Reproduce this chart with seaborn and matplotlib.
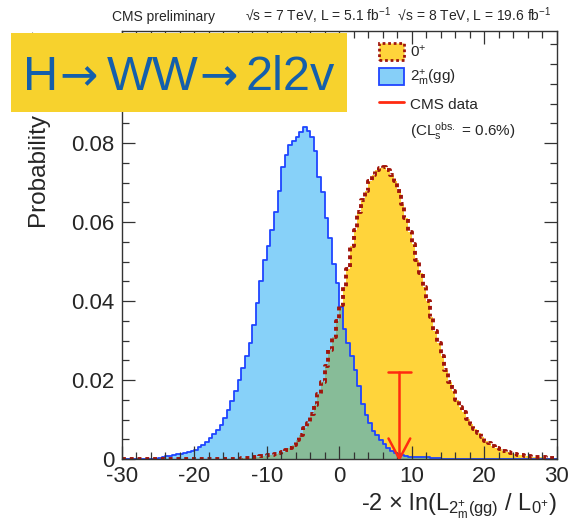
import numpy as np
import pandas as pd
import matplotlib
matplotlib.use("Agg")
import matplotlib.pyplot as plt
import seaborn as sns
from matplotlib.patches import Patch, Rectangle
from matplotlib.lines import Line2D

# ---------------- data ----------------
bin_edges = [(-60 + i) / 2 for i in range(121)]
bin_centers = [(bin_edges[i] + bin_edges[i + 1]) / 2 for i in range(120)]

spin2_gg = ([0] * 9 +
            [0.0001, 0.0003, 0.0005, 0.0007, 0.0008, 0.0010, 0.0012, 0.0013, 0.0015, 0.0017,
             0.0020, 0.0024, 0.0030, 0.0036, 0.0044, 0.0052, 0.0063, 0.0074, 0.0087, 0.0105,
             0.0125, 0.0148, 0.0172, 0.0200, 0.0230, 0.0262, 0.0295, 0.0340, 0.0395, 0.0450,
             0.0505, 0.0540, 0.0580, 0.0625, 0.0680, 0.0740, 0.0770, 0.0795, 0.0805, 0.0815,
             0.0828, 0.0840, 0.0830, 0.0815, 0.0780, 0.0715, 0.0675, 0.0610, 0.0560, 0.0495,
             0.0445, 0.0385, 0.0330, 0.0295, 0.0262, 0.0225, 0.0185, 0.0140, 0.0112, 0.0090,
             0.0072, 0.0060, 0.0048, 0.0037, 0.0029, 0.0021, 0.0016, 0.0012, 0.0009, 0.0007,
             0.0006, 0.0005, 0.0005, 0.0004, 0.0004, 0.0004, 0.0003, 0.0003, 0.0002] +
            [0] * 32)

spin0 = ([0] * 33 +
         [0.0002, 0.0002, 0.0003, 0.0004, 0.0005, 0.0007, 0.0008, 0.0010, 0.0011, 0.0013,
          0.0016, 0.0018, 0.0022, 0.0027, 0.0035, 0.0047, 0.0062, 0.0078, 0.0092, 0.0115,
          0.0138, 0.0165, 0.0195, 0.0235, 0.0276, 0.0310, 0.0350,
          0.0390, 0.0435, 0.0480, 0.0540, 0.0580, 0.0625, 0.0655, 0.0680, 0.0705, 0.0720,
          0.0732, 0.0738, 0.0740, 0.0732, 0.0720, 0.0705, 0.0680, 0.0645, 0.0610, 0.0575,
          0.0545, 0.0505, 0.0470, 0.0435, 0.0400, 0.0360, 0.0325, 0.0295, 0.0260, 0.0225,
          0.0195, 0.0172, 0.0150, 0.0132, 0.0118, 0.0102, 0.0088, 0.0076, 0.0065, 0.0055,
          0.0046, 0.0040, 0.0034, 0.0029, 0.0025, 0.0021, 0.0018, 0.0015, 0.0013, 0.0011,
          0.0009, 0.0008, 0.0007, 0.0006, 0.0005, 0.0004, 0.0004, 0.0003, 0.0003, 0.0002])

assert len(spin2_gg) == 120 and len(spin0) == 120

observed_x = 8.3
observed_top = 0.0221

x_ticks = [-30, -20, -10, 0, 10, 20, 30]
y_ticks = [0, 0.02, 0.04, 0.06, 0.08]
y_tick_labels = ["0", "0.02", "0.04", "0.06", "0.08"]

title_parts = ["H", "→", "WW", "→", "2l2v"]

df0 = pd.DataFrame({"x": bin_centers, "w": spin0})
df2 = pd.DataFrame({"x": bin_centers, "w": spin2_gg})

# ---------------- style ----------------
sns.set_style("ticks")
plt.rcParams["font.family"] = ["Liberation Sans", "DejaVu Sans"]
plt.rcParams["mathtext.default"] = "regular"

YELLOW = "#ffd43b"
DARKRED = "#a0150c"
BLUE_LINE = "#1f45ff"
BLUE_FILL = "#10a5f5"
RED = "#ff2a10"

W, H = 568, 526
fig = plt.figure(figsize=(W / 100, H / 100), dpi=100)
ax = fig.add_axes([121.7 / W, 67 / H, 435 / W, 428 / H])

# yellow 0+ fill
sns.histplot(data=df0, x="x", weights="w", bins=bin_edges, element="step",
             fill=True, color=YELLOW, alpha=1.0, linewidth=0, ax=ax)
# blue 2+m(gg) fill (semi-transparent, like the ROOT hatch)
sns.histplot(data=df2, x="x", weights="w", bins=bin_edges, element="step",
             fill=True, color=BLUE_FILL, alpha=0.5, linewidth=0, ax=ax)
# outlines
sns.histplot(data=df2, x="x", weights="w", bins=bin_edges, element="step",
             fill=False, color=BLUE_LINE, linewidth=1.3, ax=ax)
sns.histplot(data=df0, x="x", weights="w", bins=bin_edges, element="step",
             fill=False, color=DARKRED, linewidth=2.8, linestyle=(0, (1, 1)), ax=ax)

# observed value arrow
ax.plot([observed_x, observed_x], [observed_top, 0], color=RED, lw=1.8, zorder=5)
ax.plot([observed_x - 1.55, observed_x + 1.55], [observed_top, observed_top], color=RED, lw=1.8, zorder=5)
ax.plot([observed_x - 1.5, observed_x, observed_x + 1.5], [0.0052, 0, 0.0052], color=RED, lw=1.8, zorder=5)

ax.set_xlim(-30, 30)
ax.set_ylim(0, 0.1084)
ax.set_xticks(x_ticks)
ax.set_xticklabels([str(t) for t in x_ticks])
ax.set_yticks(y_ticks)
ax.set_yticklabels(y_tick_labels)
ax.set_xticks(np.arange(-30, 31, 2), minor=True)
ax.set_yticks(np.arange(0, 0.106, 0.005), minor=True)
ax.tick_params(which="both", direction="in", top=True, right=True, color="#333333")
ax.tick_params(which="major", length=9.5, width=0.9, labelsize=16, pad=5)
ax.tick_params(which="minor", length=4.8, width=0.9)
ax.set_axisbelow(False)
for s in ax.spines.values():
    s.set_color("#333333")
    s.set_linewidth(1.0)

ax.set_ylabel("Probability density", fontsize=17.5, loc="top")
ax.yaxis.set_label_coords(-0.163, 1.0)
ax.set_xlabel(r"-2 $\times$ ln(L$_{2^{+}_{m}(gg)}$ / L$_{0^{+}}$)", fontsize=17, loc="right", labelpad=3)

# legend
handles = [
    Patch(facecolor=YELLOW, edgecolor=DARKRED, linestyle=(0, (1, 1)), linewidth=2),
    Patch(facecolor="#86cff8", edgecolor=BLUE_LINE, linewidth=1.3),
    Line2D([], [], color=RED, lw=2),
    Line2D([], [], color="none"),
]
labels = ["0$^{+}$", "2$^{+}_{m}$(gg)", "CMS data", "(CL$_{s}^{obs.}$ = 0.6%)"]
ax.legend(handles, labels, loc="upper left", bbox_to_anchor=(379 / W, 1 - 43 / H),
          bbox_transform=fig.transFigure, frameon=False, fontsize=11,
          handlelength=1.65, handleheight=1.35, labelspacing=0.5, handletextpad=0.35,
          borderpad=0, borderaxespad=0)

# header
fig.text(112 / W, 1 - 21 / H, "CMS preliminary", fontsize=10, ha="left", va="baseline")
fig.text(551 / W, 1 - 21 / H,
         r"√s = 7 TeV, L = 5.1 fb$^{-1}$  √s = 8 TeV, L = 19.6 fb$^{-1}$",
         fontsize=10, ha="right", va="baseline")

# title banner
fig.add_artist(Rectangle((11 / W, 1 - 112 / H), 336 / W, 79 / H, transform=fig.transFigure,
                         facecolor="#f7d22d", edgecolor="none", zorder=10))
part_x = [23, 59, 107, 199, 245]
for txt, px in zip(title_parts, part_x):
    fam = ["DejaVu Sans"] if txt == "→" else ["Liberation Sans", "DejaVu Sans"]
    fs = 33 if txt == "→" else 35
    fig.text(px / W, 1 - 90 / H, txt, fontsize=fs, color="#145fab", family=fam,
             ha="left", va="baseline", zorder=11)

fig.savefig("out.png", dpi=100)
